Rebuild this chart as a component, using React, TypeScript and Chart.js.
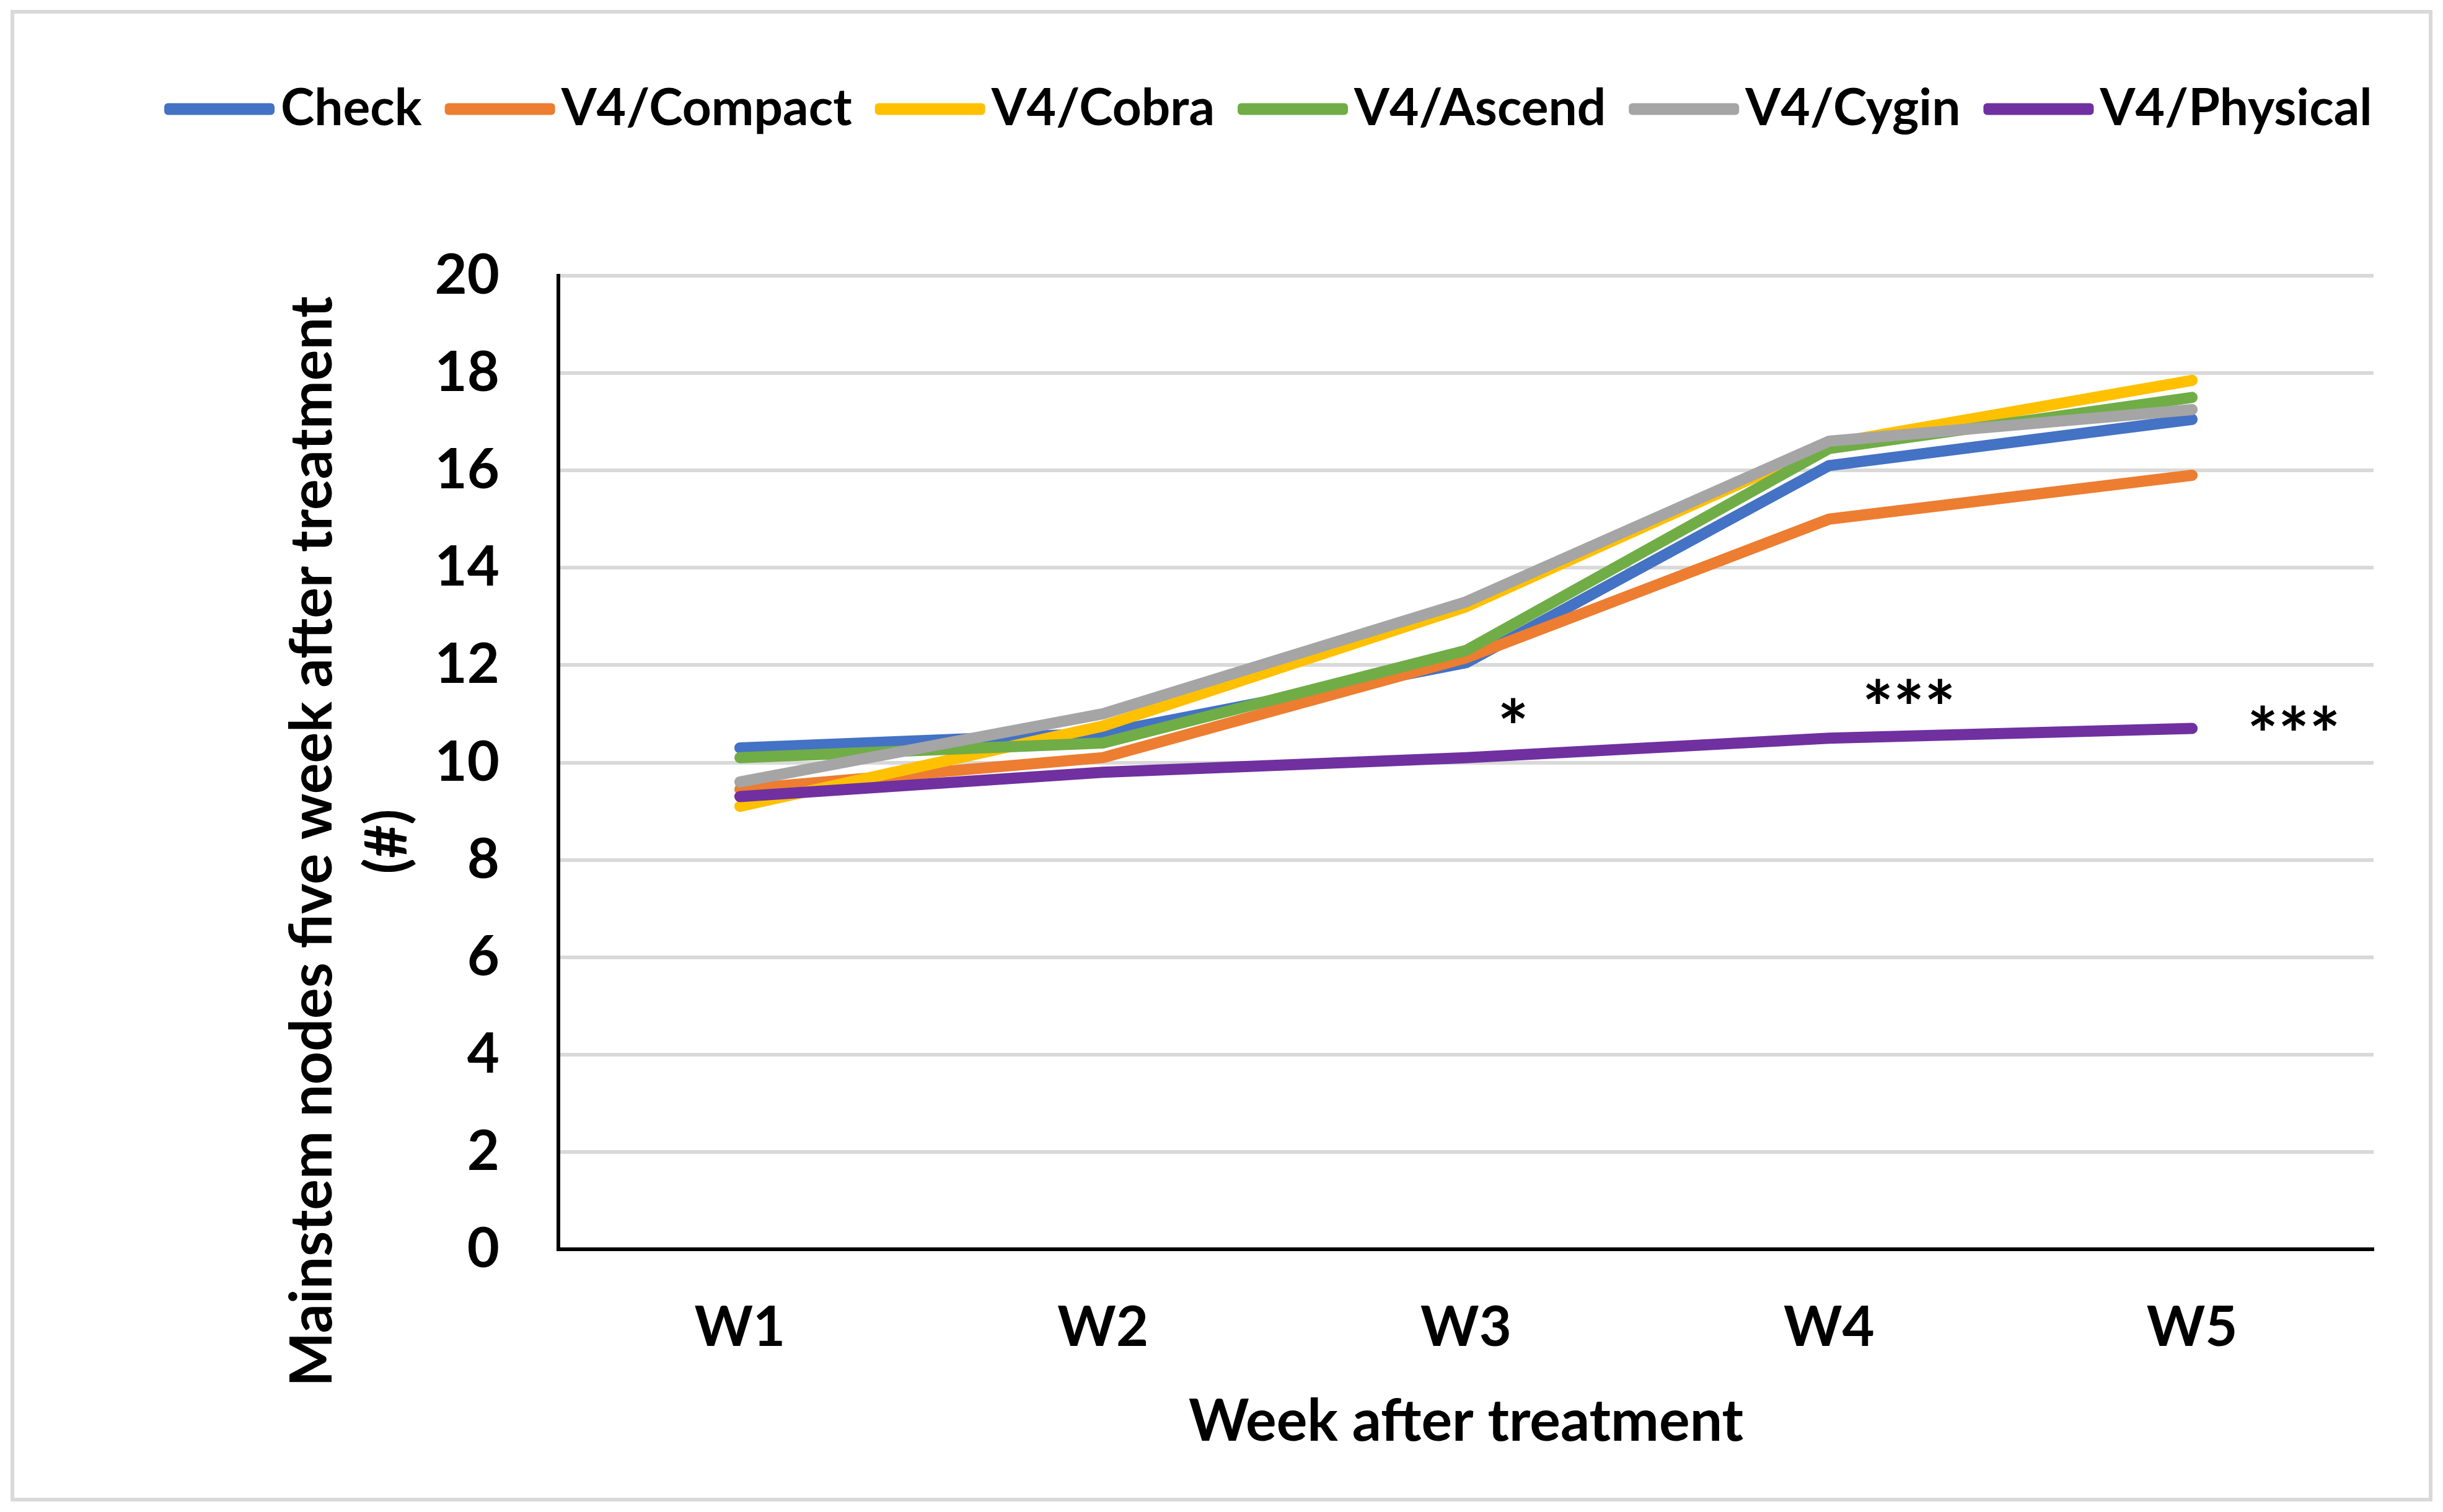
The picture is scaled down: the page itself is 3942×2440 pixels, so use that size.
import React, { useEffect, useRef } from 'react';
import { Chart, registerables } from 'chart.js';

Chart.register(...registerables);

const FONT = "Lato, 'Open Sans', sans-serif";

const weeks = ['W1', 'W2', 'W3', 'W4', 'W5'];
const seriesNames = ['Check', 'V4/Compact', 'V4/Cobra', 'V4/Ascend', 'V4/Cygin', 'V4/Physical'];
const checkValues = [10.3, 10.6, 12.05, 16.1, 17.05];
const compactValues = [9.45, 10.1, 12.15, 15.0, 15.9];
const cobraValues = [9.1, 10.75, 13.2, 16.55, 17.85];
const ascendValues = [10.1, 10.4, 12.3, 16.45, 17.5];
const cyginValues = [9.6, 11.0, 13.3, 16.6, 17.25];
const physicalValues = [9.3, 9.8, 10.1, 10.5, 10.7];
const seriesValues = [checkValues, compactValues, cobraValues, ascendValues, cyginValues, physicalValues];
const seriesColors = ['#4472C4', '#ED7D31', '#FFC000', '#70AD47', '#A5A5A5', '#7030A0'];

const yMin = 0;
const yMax = 20;
const yStep = 2;

const yTitleLines = ['Mainstem nodes five week after treatment', '(#)'];
const xTitle = 'Week after treatment';

const annotationTexts = ['*', '***', '***'];
const annotationX = [2.13, 3.22, 4.28];
const annotationY = [11.07, 11.46, 10.92];

const W = 3942;
const H = 2440;

const framePlugin = {
  id: 'frame',
  beforeDraw(chart: any) {
    const ctx = chart.ctx;
    ctx.save();
    ctx.fillStyle = '#FFFFFF';
    ctx.fillRect(0, 0, chart.width, chart.height);
    ctx.strokeStyle = '#D9D9D9';
    ctx.lineWidth = 6;
    ctx.strokeRect(20, 19, 3902, 2401);
    ctx.restore();
  },
};

const textPlugin = {
  id: 'texts',
  afterDraw(chart: any) {
    const ctx = chart.ctx;
    const area = chart.chartArea;
    ctx.save();
    ctx.fillStyle = '#000000';

    // legend
    const sets = chart.data.datasets;
    let size = 90;
    ctx.font = `bold ${size}px ${FONT}`;
    const total = sets.reduce((s: number, d: any) => s + ctx.measureText(d.label).width, 0);
    const target = 2250;
    if (total > target) {
      size = (size * target) / total;
      ctx.font = `bold ${size}px ${FONT}`;
    }
    let x = 265;
    const ly = 176;
    sets.forEach((d: any) => {
      ctx.fillStyle = d.borderColor;
      ctx.beginPath();
      ctx.roundRect(x, ly - 9.5, 178, 19, 6);
      ctx.fill();
      x += 178 + 10;
      ctx.fillStyle = '#000000';
      ctx.textAlign = 'left';
      ctx.textBaseline = 'alphabetic';
      ctx.fillText(d.label, x, 202);
      x += ctx.measureText(d.label).width + 37;
    });

    // y title
    ctx.font = `bold 93px ${FONT}`;
    ctx.textAlign = 'center';
    ctx.textBaseline = 'alphabetic';
    const yc = 1358;
    const baselines = [535, 656];
    yTitleLines.forEach((t, i) => {
      ctx.save();
      ctx.translate(baselines[i], yc);
      ctx.rotate(-Math.PI / 2);
      ctx.fillText(t, 0, 0);
      ctx.restore();
    });

    // x title
    ctx.fillText(xTitle, (area.left + area.right) / 2, 2325);
    ctx.restore();
  },
  afterDatasetsDraw(chart: any) {
    const ctx = chart.ctx;
    const xs = chart.scales.x;
    const ys = chart.scales.y;
    ctx.save();
    ctx.fillStyle = '#000000';
    ctx.font = `bold 118px ${FONT}`;
    ctx.textAlign = 'center';
    ctx.textBaseline = 'alphabetic';
    annotationTexts.forEach((t, i) => {
      const px = xs.getPixelForValue(annotationX[i]);
      const py = ys.getPixelForValue(annotationY[i]);
      const m = ctx.measureText(t);
      ctx.fillText(t, px, py + (m.actualBoundingBoxAscent - m.actualBoundingBoxDescent) / 2);
    });
    ctx.restore();
  },
};

export default function App() {
  const ref = useRef<HTMLCanvasElement | null>(null);

  useEffect(() => {
    if (!ref.current) return;
    const tickFont = { family: FONT, size: 90, weight: 'bold' as const };
    const chart = new Chart(ref.current, {
      type: 'line',
      data: {
        labels: weeks,
        datasets: seriesNames.map((name, i) => ({
          label: name,
          data: seriesValues[i],
          borderColor: seriesColors[i],
          backgroundColor: seriesColors[i],
          borderWidth: 18,
          pointRadius: 0,
          pointHoverRadius: 0,
          tension: 0,
          borderCapStyle: 'round' as const,
          borderJoinStyle: 'round' as const,
          order: seriesNames.length - i,
          fill: false,
        })),
      },
      options: {
        animation: false,
        responsive: false,
        devicePixelRatio: 1,
        layout: { padding: { top: 445, right: 112, bottom: 0, left: 0 } },
        plugins: {
          legend: { display: false },
          tooltip: { enabled: false },
          title: { display: false },
        },
        scales: {
          x: {
            type: 'category',
            offset: true,
            grid: { display: false, drawTicks: false },
            border: { display: true, color: '#000000', width: 6 },
            ticks: { color: '#000000', font: tickFont, padding: 73 },
            afterFit: (s: any) => {
              s.height = H - 2016;
            },
          },
          y: {
            min: yMin,
            max: yMax,
            grid: { color: '#D9D9D9', lineWidth: 6, drawTicks: false },
            border: { display: true, color: '#000000', width: 6 },
            ticks: { stepSize: yStep, color: '#000000', font: tickFont, padding: 95 },
            afterFit: (s: any) => {
              s.width = 901;
            },
          },
        },
      },
      plugins: [framePlugin, textPlugin],
    });
    return () => chart.destroy();
  }, []);

  return (
    <div style={{ position: 'fixed', left: 0, top: 0, width: W, height: H, background: '#FFFFFF' }}>
      <canvas ref={ref} width={W} height={H} style={{ display: 'block', width: W, height: H }} />
    </div>
  );
}
